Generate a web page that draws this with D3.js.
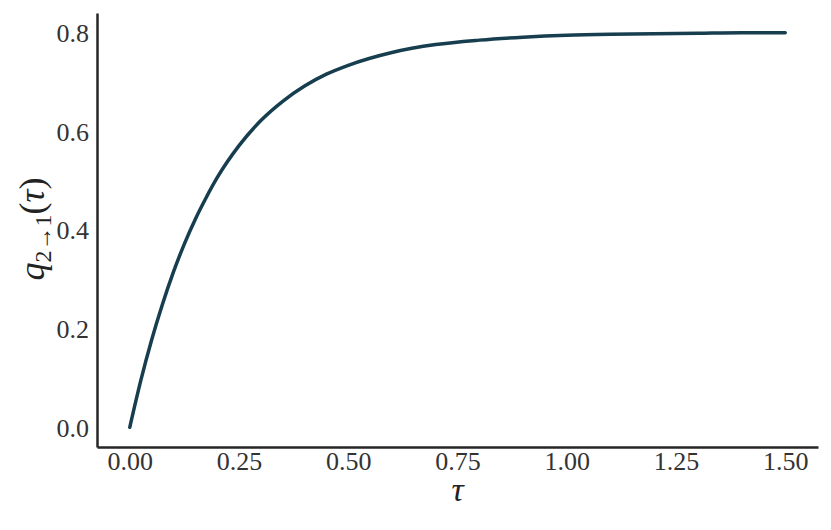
<!doctype html>
<html>
<head>
<meta charset="utf-8">
<title>q tau</title>
<style>
  body { margin: 0; background: #fff; }
  text { font-family: "Liberation Serif", "DejaVu Serif", serif; }
</style>
</head>
<body>
<div id="here"></div>
<script src="https://d3js.org/d3.v7.min.js"></script>
<script>
// values
var tau = [0, 0.025, 0.05, 0.075, 0.1, 0.125, 0.15, 0.175, 0.2, 0.25, 0.3, 0.35, 0.4, 0.45, 0.5,
           0.6, 0.7, 0.8, 0.9, 1.0, 1.1, 1.2, 1.3, 1.4, 1.5];
var q = [0, 0.094, 0.177, 0.250, 0.315, 0.372, 0.422, 0.466, 0.506, 0.571, 0.622, 0.661, 0.692, 0.716, 0.734,
         0.760, 0.776, 0.785, 0.791, 0.795, 0.797, 0.798, 0.799, 0.800, 0.800];
var xTicks = [0, 0.25, 0.5, 0.75, 1.0, 1.25, 1.5];
var yTicks = [0, 0.2, 0.4, 0.6, 0.8];

var w = 831, h = 530;
var mLeft = 97, mRight = 818, mTop = 13, mBottom = 447;

var svg = d3.select("#here").append("svg")
  .attr("width", w)
  .attr("height", h);

var x = d3.scaleLinear().domain([-0.075, 1.575]).range([mLeft, mRight]);
var y = d3.scaleLinear().domain([-0.04, 0.84]).range([mBottom, mTop]);

// axes without tick marks, like the figure
var xAxis = svg.append("g")
  .attr("transform", "translate(0," + mBottom + ")")
  .call(d3.axisBottom(x).tickValues(xTicks).tickSize(0).tickPadding(5).tickFormat(d3.format(".2f")));
var yAxis = svg.append("g")
  .attr("transform", "translate(" + mLeft + ",0)")
  .call(d3.axisLeft(y).tickValues(yTicks).tickSize(0).tickPadding(8).tickFormat(d3.format(".1f")));

[xAxis, yAxis].forEach(function(g) {
  g.select(".domain").attr("stroke", "#262626").attr("stroke-width", 2.5);
  g.selectAll("text")
    .attr("fill", "#333")
    .attr("font-size", 26)
    .style("font-family", '"Liberation Serif", serif');
});
xAxis.selectAll("text").attr("dy", "0.71em");
yAxis.selectAll("text").attr("dy", "0.34em");

var pts = tau.map(function(t, i) { return [t, q[i]]; });
var line = d3.line()
  .x(function(d) { return x(d[0]); })
  .y(function(d) { return y(d[1]); })
  .curve(d3.curveMonotoneX);

svg.append("path")
  .datum(pts)
  .attr("d", line)
  .attr("fill", "none")
  .attr("stroke", "#173e4f")
  .attr("stroke-width", 3.5)
  .attr("stroke-linecap", "round");

// x label
svg.append("text")
  .attr("x", x(0.75))
  .attr("y", 501)
  .attr("text-anchor", "middle")
  .attr("font-size", 34)
  .attr("font-style", "italic")
  .attr("fill", "#222")
  .text("τ");

// y label q_{2→1}(τ)
var yl = svg.append("text")
  .attr("transform", "translate(44,229) rotate(-90)")
  .attr("text-anchor", "middle")
  .attr("font-size", 36)
  .attr("fill", "#222");
yl.append("tspan").attr("font-style", "italic").text("q");
yl.append("tspan").attr("font-size", 24).attr("dy", 7).text("2→1");
yl.append("tspan").attr("dy", -7).text("(");
yl.append("tspan").attr("font-style", "italic").text("τ");
yl.append("tspan").text(")");
</script>
</body>
</html>
